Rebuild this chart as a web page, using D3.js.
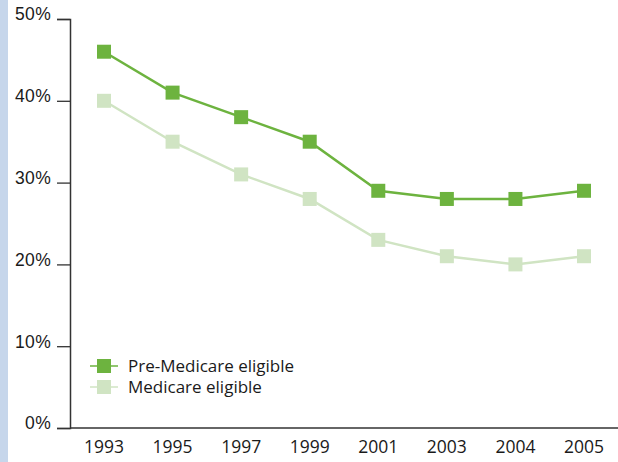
<!DOCTYPE html>
<html>
<head>
<meta charset="utf-8">
<script src="https://cdn.jsdelivr.net/npm/d3@7"></script>
<style>
  body { margin: 0; background: #fff; }
  svg { display: block; font-family: "Open Sans", sans-serif; }
</style>
</head>
<body>
<svg width="618" height="462"></svg>
<script>
var years = ["1993", "1995", "1997", "1999", "2001", "2003", "2004", "2005"];
var preMedicare = [46, 41, 38, 35, 29, 28, 28, 29];
var medicare = [40, 35, 31, 28, 23, 21, 20, 21];
var yTicks = [0, 10, 20, 30, 40, 50];

var series = [
    { name: "Pre-Medicare eligible", values: preMedicare, color: "#6db33f" },
    { name: "Medicare eligible", values: medicare, color: "#d0e4c3" }
];

var svg = d3.select("svg");

// light blue strip on the left edge
svg.append("rect")
    .attr("x", 0).attr("y", 0)
    .attr("width", 8).attr("height", 462)
    .attr("fill", "#c6d6eb");

var x = d3.scalePoint().domain(years).range([104, 584]);
var y = d3.scaleLinear().domain([0, 50]).range([428, 19]);

// y axis
var yAxis = svg.append("g")
    .attr("transform", "translate(70,0)")
    .call(d3.axisLeft(y).tickValues(yTicks).tickSize(13).tickPadding(6)
        .tickFormat(function (d) { return d + "%"; }));
yAxis.select(".domain").attr("stroke", "#333").attr("stroke-width", 1.5);
yAxis.selectAll(".tick line").attr("stroke", "#333").attr("stroke-width", 1.3);
yAxis.selectAll("text")
    .attr("fill", "#1a1a1a")
    .style("font-size", "17.5px")
    .style("letter-spacing", "0.3px")
    .attr("dy", "0.05em");

// x axis line
svg.append("line")
    .attr("x1", 70).attr("x2", 618)
    .attr("y1", y(0)).attr("y2", y(0))
    .attr("stroke", "#333").attr("stroke-width", 1.5);

svg.append("g").selectAll("text")
    .data(years)
    .enter().append("text")
    .attr("x", function (d) { return x(d); })
    .attr("y", 453)
    .attr("text-anchor", "middle")
    .attr("fill", "#1a1a1a")
    .style("font-size", "17.5px")
    .text(function (d) { return d; });

var line = d3.line()
    .x(function (d, i) { return x(years[i]); })
    .y(function (d) { return y(d); });

// draw lighter series first
series.slice().reverse().forEach(function (s) {
    var g = svg.append("g");
    g.append("path")
        .datum(s.values)
        .attr("fill", "none")
        .attr("stroke", s.color)
        .attr("stroke-width", 2.5)
        .attr("d", line);
    g.selectAll("rect")
        .data(s.values)
        .enter().append("rect")
        .attr("x", function (d, i) { return x(years[i]) - 7; })
        .attr("y", function (d) { return y(d) - 7; })
        .attr("width", 14)
        .attr("height", 14)
        .attr("fill", s.color);
});

// legend
var legend = svg.append("g").selectAll("g")
    .data(series)
    .enter().append("g")
    .attr("transform", function (d, i) { return "translate(90," + (366 + i * 21) + ")"; });
legend.append("line")
    .attr("x1", 0).attr("x2", 28)
    .attr("stroke", function (d) { return d.color; })
    .attr("stroke-width", 1.5);
legend.append("rect")
    .attr("x", 7).attr("y", -7)
    .attr("width", 14).attr("height", 14)
    .attr("fill", function (d) { return d.color; });
legend.append("text")
    .attr("x", 38)
    .attr("y", 6)
    .attr("fill", "#1a1a1a")
    .style("font-size", "17px")
    .text(function (d) { return d.name; });
</script>
</body>
</html>
